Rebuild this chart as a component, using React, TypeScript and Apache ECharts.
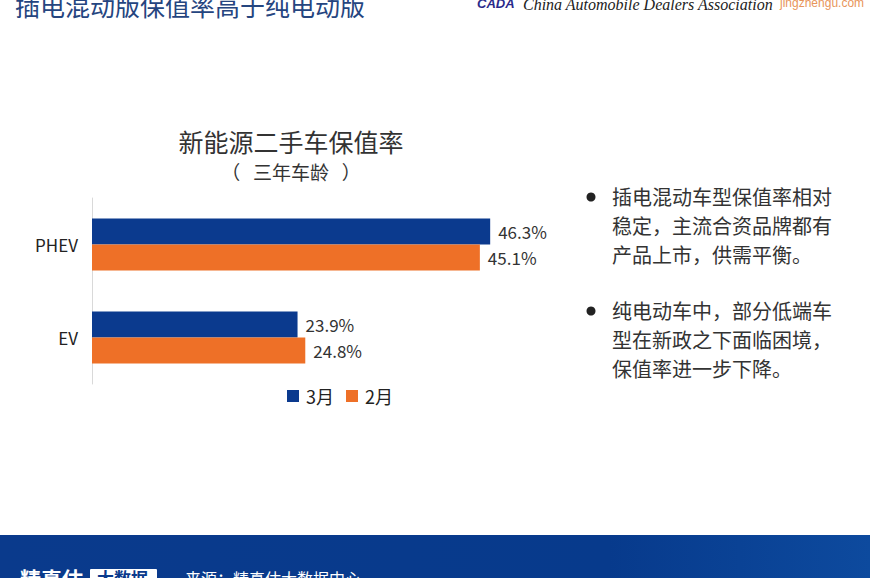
import React, { useEffect, useRef } from "react";
import * as echarts from "echarts";

const categories = ["PHEV", "EV"];
const seriesNames = ["3月", "2月"];
const marchValues = [46.3, 23.9];
const febValues = [45.1, 24.8];

const pageTitle = "插电混动版保值率高于纯电动版";
const chartTitle = "新能源二手车保值率";
const chartSubtitle = "（   三年车龄   ）";
const bullet1 = ["插电混动车型保值率相对", "稳定，主流合资品牌都有", "产品上市，供需平衡。"];
const bullet2 = ["纯电动车中，部分低端车", "型在新政之下面临困境，", "保值率进一步下降。"];

const CJK = "'Noto Sans CJK SC', 'Noto Sans', sans-serif";
const BLUE = "#0b3a8e";
const ORANGE = "#ee7027";

export default function App() {
  const ref = useRef<HTMLDivElement>(null);
  useEffect(() => {
    if (!ref.current) return;
    const chart = echarts.init(ref.current, undefined, { renderer: "svg" });
    const lineTexts = (lines: string[], y0: number) =>
      lines.map((t, i) => ({
        type: "text",
        left: 612,
        top: y0 + i * 29 - 11,
        style: { text: t, font: `20px ${CJK}`, fill: "#333" },
      }));
    const labelCfg = {
      show: true,
      position: "right",
      distance: 8,
      formatter: "{c}%",
      fontSize: 17,
      color: "#333",
      fontFamily: CJK,
    };
    chart.setOption({
      animation: false,
      backgroundColor: "#ffffff",
      grid: { left: 92, top: 198, width: 430, height: 186 },
      xAxis: { type: "value", min: 0, max: 50, show: false },
      yAxis: {
        type: "category",
        data: categories,
        inverse: true,
        axisLine: { show: true, lineStyle: { color: "#d9d9d9", width: 1 } },
        axisTick: { show: false },
        axisLabel: { fontSize: 17, color: "#222", margin: 14, fontFamily: CJK },
      },
      legend: {
        data: seriesNames,
        left: 282,
        top: 382,
        itemWidth: 12,
        itemHeight: 12,
        itemGap: 12,
        icon: "rect",
        textStyle: { fontSize: 18, color: "#222", fontFamily: CJK, padding: [0, 0, 0, 2] },
      },
      series: [
        {
          name: seriesNames[0],
          type: "bar",
          data: marchValues,
          barWidth: 26,
          barGap: "0%",
          itemStyle: { color: BLUE },
          label: labelCfg,
        },
        {
          name: seriesNames[1],
          type: "bar",
          data: febValues,
          barWidth: 26,
          barGap: "0%",
          itemStyle: { color: ORANGE },
          label: labelCfg,
        },
      ],
      graphic: [
        {
          type: "text",
          left: 15,
          top: -8,
          style: { text: pageTitle, font: `25px ${CJK}`, fill: "#25457f" },
        },
        {
          type: "text",
          left: 477,
          top: -3,
          style: { text: "CADA", font: "italic bold 13px 'Liberation Sans', sans-serif", fill: "#2a2a8a" },
        },
        {
          type: "text",
          left: 523,
          top: -4,
          style: {
            text: "China Automobile Dealers Association",
            font: "italic 16px 'Liberation Serif', serif",
            fill: "#222",
          },
        },
        {
          type: "text",
          left: 780,
          top: -3,
          style: { text: "jingzhengu.com", font: "12px 'Liberation Sans', sans-serif", fill: "#e8955a" },
        },
        {
          type: "text",
          x: 291,
          y: 141,
          style: {
            text: chartTitle,
            font: `25px ${CJK}`,
            fill: "#333",
            textAlign: "center",
            textVerticalAlign: "middle",
          },
        },
        {
          type: "text",
          x: 291,
          y: 171,
          style: {
            text: chartSubtitle,
            font: `19px ${CJK}`,
            fill: "#333",
            textAlign: "center",
            textVerticalAlign: "middle",
          },
        },
        { type: "circle", shape: { cx: 591, cy: 197, r: 4.5 }, style: { fill: "#222" } },
        { type: "circle", shape: { cx: 591, cy: 311, r: 4.5 }, style: { fill: "#222" } },
        ...lineTexts(bullet1, 197),
        ...lineTexts(bullet2, 311),
        {
          type: "rect",
          shape: { x: 0, y: 535, width: 870, height: 43 },
          style: {
            fill: new echarts.graphic.LinearGradient(0, 0, 1, 0, [
              { offset: 0, color: "#0a3a8c" },
              { offset: 0.7, color: "#073a8c" },
              { offset: 1, color: "#0d4a9e" },
            ]),
          },
        },
        {
          type: "text",
          left: 20,
          top: 567,
          style: { text: "精真估", font: `bold 21px ${CJK}`, fill: "#ffffff" },
        },
        {
          type: "rect",
          shape: { x: 90, y: 569, width: 67, height: 20, r: 1 },
          style: { fill: "#ffffff" },
        },
        {
          type: "text",
          left: 97,
          top: 569,
          style: { text: "大数据", font: `bold 17px ${CJK}`, fill: "#0a3a8c" },
        },
        {
          type: "text",
          left: 185,
          top: 570,
          style: { text: "来源：精真估大数据中心", font: `16px ${CJK}`, fill: "#ffffff" },
        },
      ],
    });
    return () => chart.dispose();
  }, []);
  return (
    <div
      ref={ref}
      style={{ position: "absolute", left: 0, top: 0, width: 870, height: 578, overflow: "hidden" }}
    />
  );
}
